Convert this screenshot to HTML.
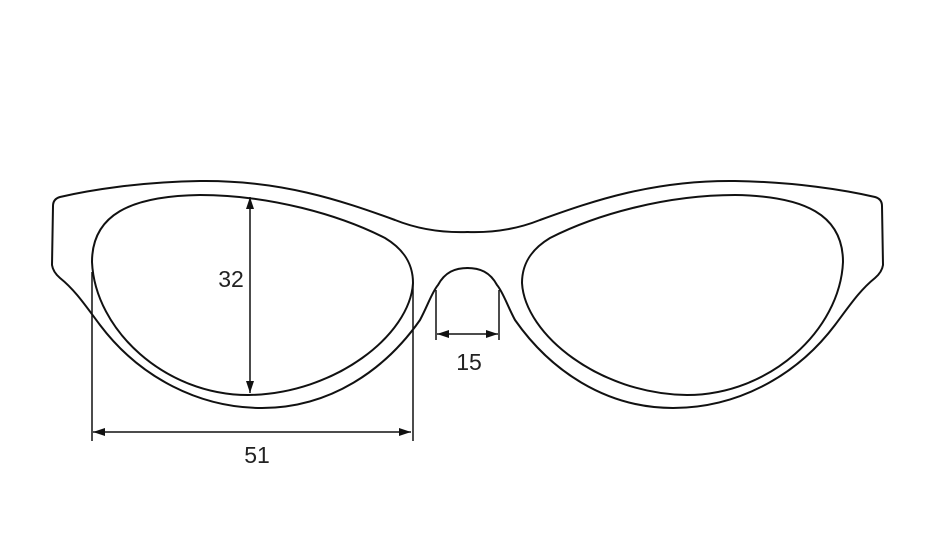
<!DOCTYPE html>
<html><head><style>
html,body{margin:0;padding:0;background:#fff;}
svg{display:block;}
text{font-family:"Liberation Sans",Arial,sans-serif;font-size:23px;fill:#222;}
</style></head><body>
<svg width="932" height="543" viewBox="0 0 932 543" xmlns="http://www.w3.org/2000/svg">
<defs>
<marker id="ar" viewBox="0 0 12 8" refX="12" refY="4" markerWidth="12" markerHeight="8" markerUnits="userSpaceOnUse" orient="auto-start-reverse">
<path d="M0,0 L12,4 L0,8 Z" fill="#111"/>
</marker>
<g id="half" fill="none" stroke="#111" stroke-width="2" stroke-linecap="round">
<path d="M468,232 C440,233 415,228 395,220 C340,200 280,180 200,181 C140,182 90,190 60,197 Q53,199 53,206 L52,265 Q53,272 60,278 C75,290 85,305 100,325 C140,378 200,408 262,408 C330,408 385,370 420,320 C428,305 432,292 438,285 C445,272 455,268 468,268"/>
<path d="M92,262 C92,215 130,196 200,195 C270,195 340,215 385,238 C405,250 413,265 413,283 C410,335 335,394 248,395 C165,395 95,330 92,262 Z"/>
</g>
</defs>
<use href="#half"/>
<use href="#half" transform="translate(935,0) scale(-1,1)"/>
<g stroke="#111" stroke-width="1.5" fill="none">
<line x1="92" y1="272" x2="92" y2="441"/>
<line x1="413" y1="283" x2="413" y2="441"/>
<line x1="93" y1="432" x2="411" y2="432" marker-start="url(#ar)" marker-end="url(#ar)"/>
<line x1="250" y1="197" x2="250" y2="393" marker-start="url(#ar)" marker-end="url(#ar)"/>
<line x1="436" y1="290" x2="436" y2="340"/>
<line x1="499" y1="290" x2="499" y2="340"/>
<line x1="437" y1="334" x2="498" y2="334" marker-start="url(#ar)" marker-end="url(#ar)"/>
</g>
<text x="231" y="287" text-anchor="middle">32</text>
<text x="257" y="463" text-anchor="middle">51</text>
<text x="469" y="370" text-anchor="middle">15</text>
</svg>
</body></html>
